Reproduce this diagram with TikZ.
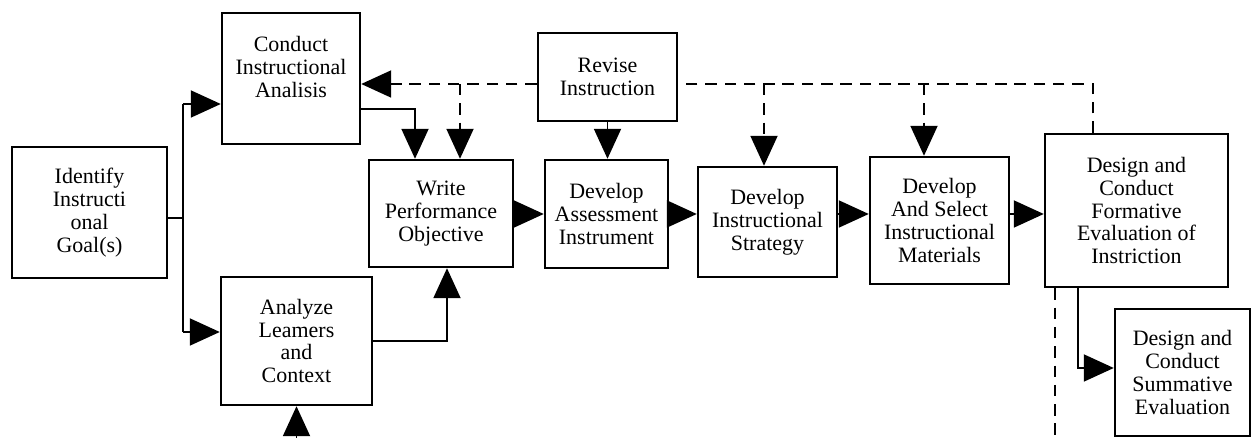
\documentclass[tikz,border=0pt]{standalone}
\usepackage{fontspec}
\setmainfont{Liberation Serif}
\usetikzlibrary{arrows.meta}
\usetikzlibrary{positioning}

\begin{document}
\begin{tikzpicture}[x=0.02cm, y=-0.02cm]
 \tikzstyle{box}=[draw, line width=1.4pt, rectangle, align=center, inner sep=0pt, font=\fontsize{12.5}{13}\selectfont]
 \tikzstyle{line}=[draw, line width=1.1pt, -{Triangle[length=0.6cm, width=0.54cm]}]
 \tikzstyle{link}=[draw, line width=1.1pt]
 \tikzstyle{dline}=[line, dash pattern=on 6.5pt off 4.5pt]
 \tikzstyle{dlink}=[link, dash pattern=on 6.5pt off 4.5pt]
 \useasboundingbox (0,0) rectangle (1252,438);

 % stages
 \draw (89.5,212.5) node[box, minimum width=3.1cm, minimum height=2.62cm] (goal) {Identify\\Instructi\\onal\\Goal(s)};
 \draw (291,78.5) node[box, minimum width=2.76cm, minimum height=2.62cm] (analysis) {Conduct\\Instructional\\Analisis\\~};
 \draw (296.5,341) node[box, minimum width=3.02cm, minimum height=2.56cm] (learners) {Analyze\\Leamers\\and\\Context};
 \draw (441,213.5) node[box, minimum width=2.88cm, minimum height=2.14cm] (objective) {Write\\Performance\\Objective};
 \draw (607.5,77) node[box, minimum width=2.78cm, minimum height=1.76cm] (revise) {Revise\\Instruction};
 \draw (606.5,214) node[box, minimum width=2.46cm, minimum height=2.16cm] (assessment) {Develop\\Assessment\\Instrument};
 \draw (767.5,222) node[box, minimum width=2.78cm, minimum height=2.2cm] (strategy) {Develop\\Instructional\\Strategy};
 \draw (939.5,220.5) node[box, minimum width=2.78cm, minimum height=2.54cm] (materials) {Develop\\And Select\\Instructional\\Materials};
 \draw (1136.5,210.5) node[box, minimum width=3.66cm, minimum height=3.06cm] (formative) {Design and\\Conduct\\Formative\\Evaluation of\\Instriction};
 \draw (1182.5,372.5) node[box, minimum width=2.7cm, minimum height=2.55cm] (summative) {Design and\\Conduct\\Summative\\Evaluation};

 % junctions and bends
 \coordinate (fork) at (183,218);
 \coordinate (forkup) at (183,104);
 \coordinate (forkdown) at (183,332);
 \coordinate (bendA) at (415,109);
 \coordinate (bendL) at (447,341);
 \coordinate (below) at (296.5,452);
 \coordinate (row) at (0,214);
 \coordinate (fb) at (0,84);
 \coordinate (dropW) at (460,84);
 \coordinate (dropS) at (764,84);
 \coordinate (dropM) at (924,84);
 \coordinate (fbR) at (1093,84);
 \coordinate (bendF) at (1078,368);
 \coordinate (outF) at (1055,450);

 % forward flow
 \path [link] (goal.east |- fork) -- (fork);
 \path [link] (forkup) -- (forkdown);
 \path [line] (forkup) -- (forkup -| analysis.west);
 \path [line] (forkdown) -- (forkdown -| learners.west);
 \path [line] (bendA -| analysis.east) -- (bendA) -- (bendA |- objective.north);
 \path [line] (learners.east) -- (bendL) -- (bendL |- objective.south);
 \path [line] (below) -- (learners.south);
 \path [line] (objective.east |- row) -- (assessment.west |- row);
 \path [line] (assessment.east |- row) -- (strategy.west |- row);
 \path [line] (strategy.east |- row) -- (materials.west |- row);
 \path [line] (materials.east |- row) -- (formative.west |- row);
 \path [line] (bendF |- formative.south) -- (bendF) -- (bendF -| summative.west);
 \path [line] (revise.south) -- (revise.south |- assessment.north);

 % revision loop
 \path [dline] (revise.west |- fb) -- (analysis.east |- fb);
 \path [dline] (dropW) -- (dropW |- objective.north);
 \path [dlink] (fbR |- formative.north) -- (fbR) -- (revise.east |- fb);
 \path [dline] (dropS) -- (dropS |- strategy.north);
 \path [dline] (dropM) -- (dropM |- materials.north);
 \path [dlink] (outF |- formative.south) -- (outF);
\end{tikzpicture}
\end{document}
